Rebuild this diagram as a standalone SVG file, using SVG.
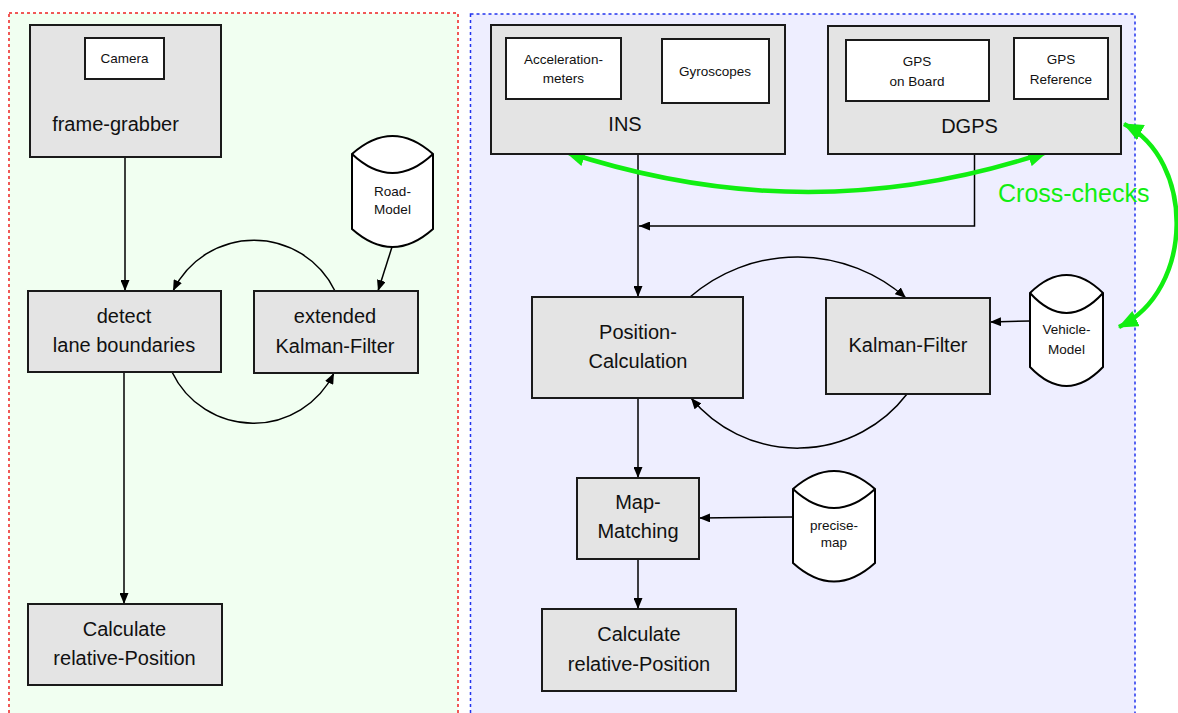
<svg xmlns="http://www.w3.org/2000/svg" width="1178" height="713" viewBox="0 0 1178 713">
<style>
.box{fill:#e4e4e4;stroke:#1a1a1a;stroke-width:2}
.sub{fill:#ffffff;stroke:#1a1a1a;stroke-width:2}
.cyl{fill:#ffffff;stroke:#000;stroke-width:2}
.t{font-family:"Liberation Sans",Arial,sans-serif;font-size:20px;fill:#111;text-anchor:middle}
.s{font-family:"Liberation Sans",Arial,sans-serif;font-size:13.5px;fill:#111;text-anchor:middle}
.c{fill:none;stroke:#000;stroke-width:1.5}
.g{fill:none;stroke:#11ee11;stroke-width:4.5}
</style>
<defs>
<marker id="a" markerUnits="userSpaceOnUse" markerWidth="11" markerHeight="9" refX="11" refY="4.5" orient="auto">
<path d="M0,0 L11,4.5 L0,9 z" fill="#000"/>
</marker>
<marker id="ga" markerUnits="userSpaceOnUse" markerWidth="20" markerHeight="17" refX="19" refY="8.5" orient="auto-start-reverse">
<path d="M0,0 L20,8.5 L0,17 z" fill="#11ee11"/>
</marker>
</defs>
<rect width="1178" height="713" fill="#ffffff"/>
<g id="panel-left">
<rect x="9" y="13" width="449" height="720" fill="#f1fff1" stroke="#ee2222" stroke-width="1.5" stroke-dasharray="3,3"/>
</g>
<g id="panel-right">
<rect x="470.5" y="14" width="664.5" height="720" fill="#eeeeff" stroke="#2233ee" stroke-width="1.5" stroke-dasharray="3,3"/>
</g>
<g id="connectors">
<line class="c" x1="125" y1="157" x2="125" y2="291" marker-end="url(#a)"/>
<line class="c" x1="392" y1="247" x2="378" y2="291" marker-end="url(#a)"/>
<line class="c" x1="124" y1="372" x2="124" y2="604" marker-end="url(#a)"/>
<path class="c" d="M335,291 A90,90 0 0,0 173,291" marker-end="url(#a)"/>
<path class="c" d="M172,372 A90,90 0 0,0 334,373" marker-end="url(#a)"/>
<line class="c" x1="638" y1="154" x2="638" y2="297" marker-end="url(#a)"/>
<polyline class="c" points="974.5,154 974.5,226 639,226" marker-end="url(#a)"/>
<line class="c" x1="1030" y1="321" x2="990" y2="322" marker-end="url(#a)"/>
<path class="c" d="M690,297 A164,164 0 0,1 906,298" marker-end="url(#a)"/>
<path class="c" d="M907,394 A138,138 0 0,1 691,398" marker-end="url(#a)"/>
<line class="c" x1="638" y1="398" x2="638" y2="478" marker-end="url(#a)"/>
<line class="c" x1="793" y1="517" x2="699" y2="518" marker-end="url(#a)"/>
<line class="c" x1="638" y1="559" x2="638" y2="609" marker-end="url(#a)"/>
<path class="g" d="M566,152 Q810,232 1047,152" marker-start="url(#ga)" marker-end="url(#ga)"/>
<path class="g" d="M1124,124 C1195,160 1195,290 1119,327" marker-start="url(#ga)" marker-end="url(#ga)"/>
<text x="998" y="202" font-family="'Liberation Sans',Arial,sans-serif" font-size="25" fill="#11ee11">Cross-checks</text>
</g>
<g id="frame-grabber">
<rect class="box" x="30" y="25" width="191" height="132"/>
<text class="t" x="115.5" y="131">frame-grabber</text>
</g>
<g id="camera">
<rect class="sub" x="85" y="38" width="79" height="41"/>
<text class="s" x="124.5" y="63">Camera</text>
</g>
<g id="road-model">
<path class="cyl" d="M352,154 Q392.5,118 433,154 L433,229 Q392.5,265 352,229 Z"/>
<path class="cyl" fill="none" d="M352,154 Q392.5,192 433,154"/>
<text class="s" x="392.5" y="196">Road-</text>
<text class="s" x="392.5" y="214">Model</text>
</g>
<g id="detect-lane">
<rect class="box" x="28" y="291" width="193" height="81"/>
<text class="t" x="124" y="323">detect</text>
<text class="t" x="124" y="352">lane boundaries</text>
</g>
<g id="extended-kf">
<rect class="box" x="254" y="291" width="164" height="82"/>
<text class="t" x="335" y="323">extended</text>
<text class="t" x="335" y="353">Kalman-Filter</text>
</g>
<g id="calc-left">
<rect class="box" x="28" y="604" width="194" height="81"/>
<text class="t" x="124.5" y="636">Calculate</text>
<text class="t" x="124.5" y="665">relative-Position</text>
</g>
<g id="ins">
<rect class="box" x="491" y="25" width="294" height="129"/>
<text class="t" x="625" y="131">INS</text>
</g>
<g id="accelerometers">
<rect class="sub" x="506" y="38" width="115" height="61"/>
<text class="s" x="563.5" y="64">Acceleration-</text>
<text class="s" x="563.5" y="83">meters</text>
</g>
<g id="gyroscopes">
<rect class="sub" x="662" y="39" width="107" height="64"/>
<text class="s" x="715" y="75.5">Gyroscopes</text>
</g>
<g id="dgps">
<rect class="box" x="828" y="26" width="293" height="128"/>
<text class="t" x="969.5" y="133">DGPS</text>
</g>
<g id="gps-onboard">
<rect class="sub" x="846" y="40" width="143" height="61"/>
<text class="s" x="917" y="65.5">GPS</text>
<text class="s" x="917" y="86">on Board</text>
</g>
<g id="gps-reference">
<rect class="sub" x="1014" y="38" width="94" height="61"/>
<text class="s" x="1061" y="63.5">GPS</text>
<text class="s" x="1061" y="84">Reference</text>
</g>
<g id="position-calculation">
<rect class="box" x="532" y="297" width="211" height="101"/>
<text class="t" x="638" y="339">Position-</text>
<text class="t" x="638" y="368">Calculation</text>
</g>
<g id="kalman-filter">
<rect class="box" x="826" y="298" width="164" height="96"/>
<text class="t" x="908" y="352">Kalman-Filter</text>
</g>
<g id="vehicle-model">
<path class="cyl" d="M1030,293 Q1066.5,257 1103,293 L1103,367 Q1066.5,405 1030,367 Z"/>
<path class="cyl" fill="none" d="M1030,293 Q1066.5,333 1103,293"/>
<text class="s" x="1066.5" y="334">Vehicle-</text>
<text class="s" x="1066.5" y="354">Model</text>
</g>
<g id="map-matching">
<rect class="box" x="577" y="478" width="122" height="81"/>
<text class="t" x="638" y="509">Map-</text>
<text class="t" x="638" y="538">Matching</text>
</g>
<g id="precise-map">
<path class="cyl" d="M793,489 Q834,453 875,489 L875,563 Q834,600 793,563 Z"/>
<path class="cyl" fill="none" d="M793,489 Q834,527 875,489"/>
<text class="s" x="834" y="530">precise-</text>
<text class="s" x="834" y="547">map</text>
</g>
<g id="calc-right">
<rect class="box" x="542" y="609" width="194" height="82"/>
<text class="t" x="639" y="641">Calculate</text>
<text class="t" x="639" y="671">relative-Position</text>
</g>
</svg>
